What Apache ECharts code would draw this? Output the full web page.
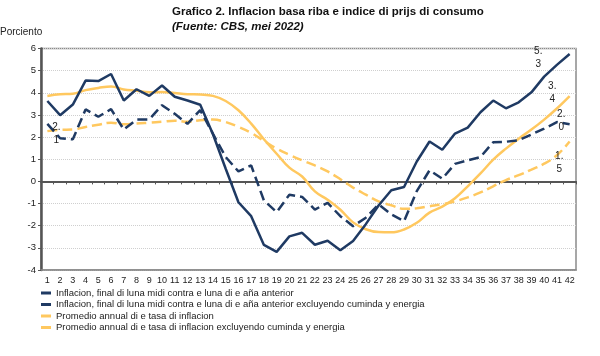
<!DOCTYPE html>
<html>
<head>
<meta charset="utf-8">
<script src="https://cdn.jsdelivr.net/npm/echarts@6/dist/echarts.min.js"></script>
<style>
html,body{margin:0;padding:0;background:#fff;}
#c{width:600px;height:356px;}
</style>
</head>
<body>
<div id="c"></div>
<script>
var categories = [];
for (var i = 1; i <= 42; i++) categories.push(String(i));

var inflacion = [3.63,2.99,3.47,4.55,4.53,4.85,3.65,4.16,3.86,4.33,
  3.82,3.65,3.46,2.13,0.57,-0.94,-1.57,-2.87,-3.18,-2.48,
  -2.32,-2.86,-2.68,-3.11,-2.69,-1.93,-1.09,-0.40,-0.25,0.90,
  1.80,1.43,2.16,2.43,3.12,3.65,3.30,3.57,4.02,4.73,
  5.26,5.75];
var inflacionCore = [2.60,1.95,1.90,3.25,2.92,3.26,2.34,2.79,2.80,3.44,
  3.05,2.60,3.22,2.15,1.10,0.45,0.72,-0.86,-1.39,-0.60,
  -0.70,-1.27,-0.97,-1.57,-2.02,-1.64,-1.04,-1.49,-1.80,-0.44,
  0.50,0.12,0.79,0.95,1.10,1.77,1.79,1.86,2.12,2.38,
  2.68,2.58];
var promedio = [3.86,3.93,3.96,4.12,4.22,4.29,4.15,4.09,4.02,4.04,
  3.99,3.94,3.92,3.86,3.63,3.21,2.61,1.90,1.25,0.62,
  0.22,-0.45,-0.83,-1.28,-1.85,-2.16,-2.29,-2.30,-2.17,-1.87,
  -1.41,-1.14,-0.76,-0.22,0.36,0.98,1.48,1.93,2.34,2.79,
  3.29,3.85];
var promedioCore = [2.27,2.33,2.34,2.46,2.56,2.65,2.58,2.61,2.65,2.69,
  2.74,2.69,2.76,2.79,2.68,2.46,2.19,1.83,1.48,1.20,
  0.95,0.72,0.45,0.10,-0.28,-0.60,-0.90,-1.08,-1.24,-1.21,
  -1.12,-1.03,-0.90,-0.72,-0.50,-0.22,0.06,0.28,0.53,0.80,
  1.18,1.80];

var seriesNames = [
  'Inflacion, final di luna midi contra e luna di e aña anterior',
  'Inflacion, final di luna midi contra e luna di e aña anterior excluyendo cuminda y energia',
  'Promedio annual di e tasa di inflacion',
  'Promedio annual di e tasa di inflacion excluyendo cuminda y energia'
];
var pointLabels = ['5.\n3', '2.\n0', '3.\n4', '1.\n5'];
var startLabel = '2.\n1';
var titleText = 'Grafico 2. Inflacion basa riba e indice di prijs di consumo';
var subText = '(Fuente: CBS, mei 2022)';
var yTitle = 'Porciento';

var DARK = '#1f3a63';
var GOLD = '#ffc85f';

function mp(idx, value, text, offset) {
  return {
    coord: [idx, value],
    symbol: 'circle', symbolSize: 1,
    itemStyle: { color: 'rgba(0,0,0,0)' },
    label: {
      show: true, position: 'inside', formatter: text, offset: offset,
      color: '#222', fontSize: 10, lineHeight: 13, align: 'center',
      fontFamily: 'Liberation Sans, Arial, sans-serif'
    }
  };
}
var last = 40;

var chart = echarts.init(document.getElementById('c'), null, { renderer: 'canvas' });
chart.setOption({
  animation: false,
  backgroundColor: '#fff',
  textStyle: { fontFamily: 'Liberation Sans, Arial, sans-serif' },
  title: [
    {
      text: titleText, subtext: subText, left: 172, top: 6, padding: 0, itemGap: 3,
      textStyle: { fontSize: 11.5, fontWeight: 'bold', color: '#111', fontFamily: 'Liberation Sans, Arial, sans-serif' },
      subtextStyle: { fontSize: 11.5, fontWeight: 'bold', fontStyle: 'italic', color: '#111', fontFamily: 'Liberation Sans, Arial, sans-serif' }
    },
    {
      text: yTitle, left: 0, top: 27, padding: 0,
      textStyle: { fontSize: 10, fontWeight: 'normal', color: '#222', fontFamily: 'Liberation Sans, Arial, sans-serif' }
    }
  ],
  grid: { left: 41, right: 24, top: 48.5, bottom: 86, show: true, borderColor: '#8a8a8a', borderWidth: 1.5 },
  legend: {
    orient: 'vertical', left: 41, top: 288, padding: 0, itemGap: 1.5,
    icon: 'rect', itemWidth: 10, itemHeight: 3,
    textStyle: { fontSize: 9.5, color: '#222', lineHeight: 10, fontFamily: 'Liberation Sans, Arial, sans-serif' },
    data: seriesNames
  },
  xAxis: [
    {
      type: 'category', data: categories, position: 'bottom',
      axisLine: { onZero: false, lineStyle: { color: '#8a8a8a', width: 1.5 } },
      axisTick: { show: false },
      axisLabel: { interval: 0, fontSize: 9, color: '#222', margin: 6 },
      splitLine: { show: false }
    },
    {
      type: 'category', data: categories, position: 'bottom',
      axisLine: { onZero: true, lineStyle: { color: '#555', width: 2 } },
      axisTick: { show: true, interval: 0, length: 3, lineStyle: { color: '#555', width: 1 } },
      axisLabel: { show: false },
      splitLine: { show: false }
    }
  ],
  yAxis: {
    type: 'value', min: -4, max: 6, interval: 1,
    axisLine: { show: true, lineStyle: { color: '#555', width: 2.5 } },
    axisTick: { show: true, length: 3, lineStyle: { color: '#555' } },
    axisLabel: { fontSize: 9.5, color: '#222', margin: 5 },
    splitLine: { show: true, lineStyle: { type: 'dotted', color: '#cfcfcf', width: 1 } }
  },
  series: [
    {
      name: seriesNames[0], type: 'line', data: inflacion, symbol: 'none',
      lineStyle: { color: DARK, width: 2.5 }, itemStyle: { color: DARK }, z: 4,
      markPoint: { data: [mp(last, inflacion[last], pointLabels[0], [-18.6, -7.5])] }
    },
    {
      name: seriesNames[1], type: 'line', data: inflacionCore, symbol: 'none',
      lineStyle: { color: DARK, width: 2.5, type: [10, 5] }, itemStyle: { color: DARK }, z: 4,
      markPoint: { data: [
        mp(last, inflacionCore[last], pointLabels[1], [4.4, -1.2]),
        mp(0, inflacionCore[0], startLabel, [9, 10])
      ] }
    },
    {
      name: seriesNames[2], type: 'line', data: promedio, symbol: 'none', smooth: 0.4,
      lineStyle: { color: GOLD, width: 2.5 }, itemStyle: { color: GOLD }, z: 3,
      markPoint: { data: [mp(last, promedio[last], pointLabels[2], [-4.6, -15.3])] }
    },
    {
      name: seriesNames[3], type: 'line', data: promedioCore, symbol: 'none', smooth: 0.4,
      lineStyle: { color: GOLD, width: 2.5, type: [10, 5] }, itemStyle: { color: GOLD }, z: 3,
      markPoint: { data: [mp(last, promedioCore[last], pointLabels[3], [2.4, 7.3])] }
    }
  ]
});
</script>
</body>
</html>
